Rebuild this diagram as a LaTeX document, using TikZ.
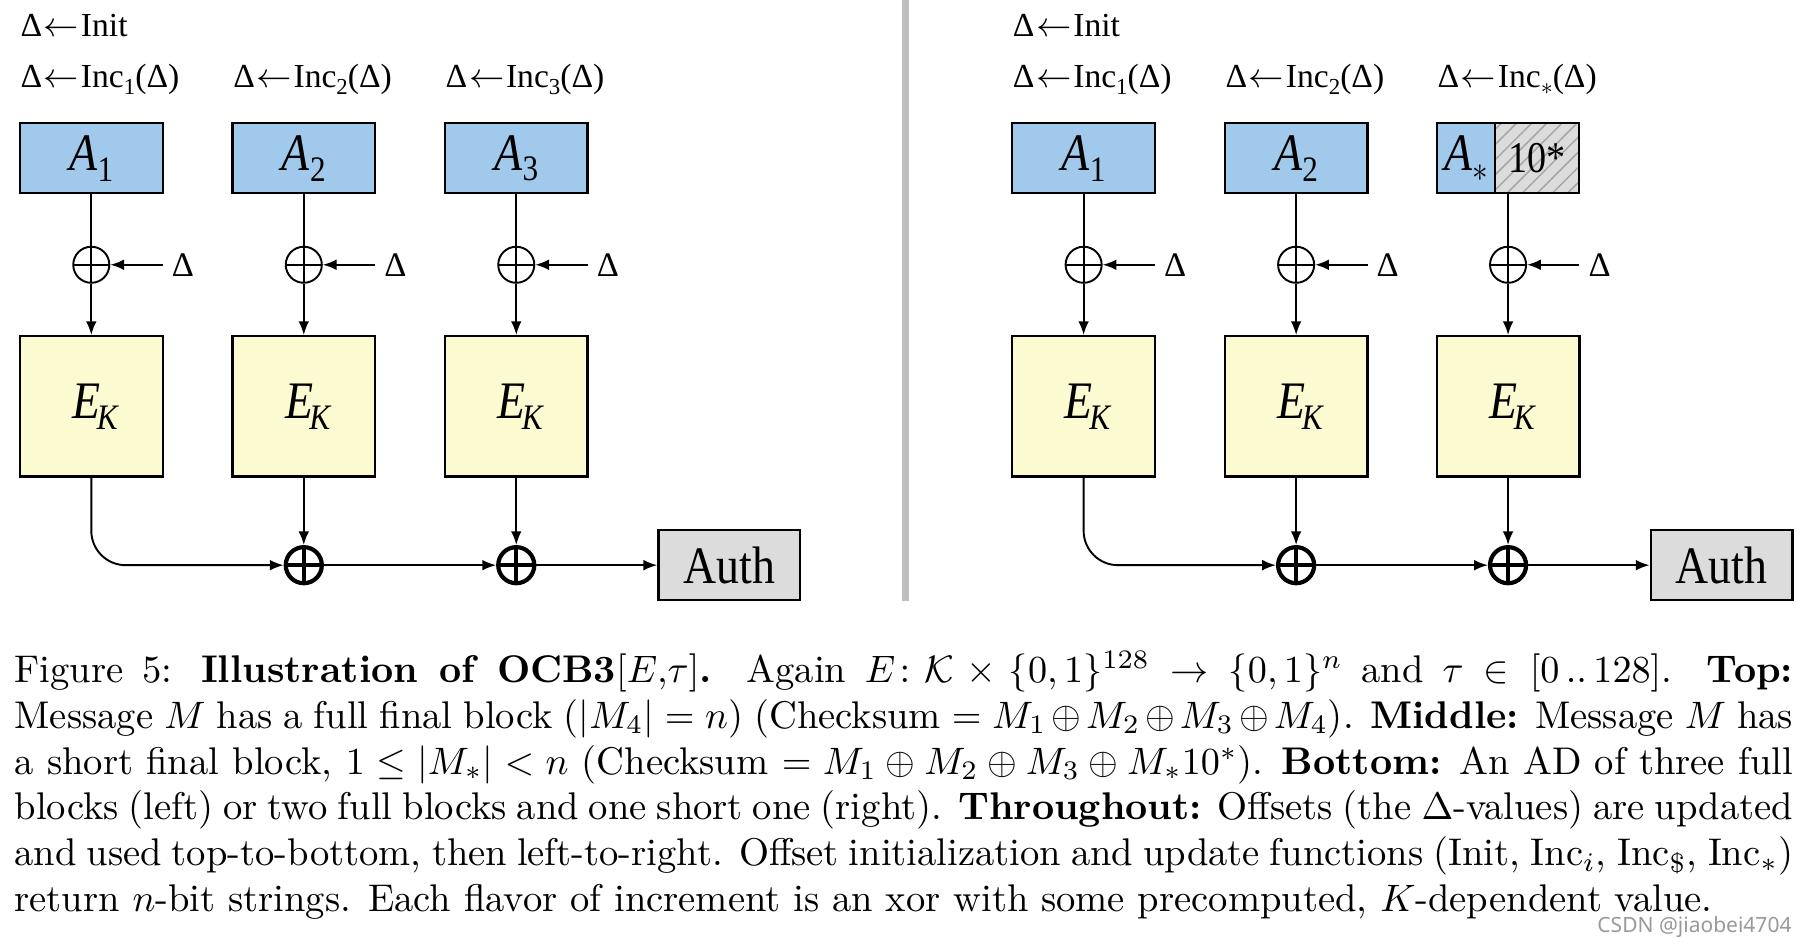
\documentclass[tikz,border=0pt]{standalone}
\usepackage{fontspec}
\usepackage{amsmath,amssymb,graphicx}
\usetikzlibrary{arrows.meta,patterns.meta,positioning}
\newfontfamily\diagfont{Liberation Serif}
\newfontfamily\markfont{Noto Sans}
\definecolor{adblue}{HTML}{A0C9EC}
\definecolor{ekyellow}{HTML}{FCFAD0}
\definecolor{authgray}{HTML}{DCDCDC}
\definecolor{sepgray}{HTML}{BFBFBF}
\newcommand{\dsub}[1]{\raisebox{-0.45ex}{\scalebox{0.68}{#1}}}
\newcommand{\tallt}[1]{\scalebox{1}[1.15]{#1}}
\newcommand{\getsarr}{\kern0.05em$\leftarrow$\kern0.05em}
\newcommand{\ek}{\tallt{\hspace{0.2em}\textit{E}\kern-0.08em\dsub{\textit{K}}}}
\begin{document}
\begin{tikzpicture}[
    >={Latex[length=3.6pt,width=2.8pt]},
    wire/.style={line width=0.5pt},
    lbl/.style={anchor=west, inner sep=0pt, font=\diagfont\fontsize{8.8}{10}\selectfont},
    dlt/.style={anchor=west, inner xsep=2.2pt, inner ysep=0pt, font=\diagfont\fontsize{9}{10}\selectfont},
    blk/.style={draw, line width=0.6pt, inner sep=0pt, font=\diagfont\fontsize{12}{14}\selectfont},
    adbox/.style={blk, fill=adblue, minimum width=1.313cm, minimum height=0.646cm},
    ekbox/.style={blk, fill=ekyellow, minimum width=1.313cm, minimum height=1.292cm},
    authbox/.style={blk, fill=authgray, minimum width=1.303cm, minimum height=0.646cm},
    xorsm/.style={circle, draw, line width=0.5pt, minimum size=0.332cm, inner sep=0pt,
        path picture={\draw (path picture bounding box.west) -- (path picture bounding box.east)
            (path picture bounding box.north) -- (path picture bounding box.south);}},
    xorbig/.style={xorsm, line width=1.1pt}
]
    \useasboundingbox (0,0) rectangle (16.607,8.685);

    % left: three full blocks
    \node[lbl] (linit) at (0.183,8.452) {Δ\getsarr Init};
    \node[lbl] (linc1) at (0.183,7.954) {Δ\getsarr Inc\dsub{1}(Δ)};
    \node[lbl] (linc2) at (2.139,7.954) {Δ\getsarr Inc\dsub{2}(Δ)};
    \node[lbl] (linc3) at (4.094,7.954) {Δ\getsarr Inc\dsub{3}(Δ)};
    \node[adbox] (a1) at (0.84,7.229) {\tallt{\textit{A}\dsub{1}}};
    \node[adbox] (a2) at (2.795,7.229) {\tallt{\textit{A}\dsub{2}}};
    \node[adbox] (a3) at (4.75,7.229) {\tallt{\textit{A}\dsub{3}}};
    \node[xorsm] (x1) at (0.84,6.249) {};
    \node[xorsm] (x2) at (2.795,6.249) {};
    \node[xorsm] (x3) at (4.75,6.249) {};
    \node[dlt] (d1) at (1.497,6.249) {Δ};
    \node[dlt] (d2) at (3.452,6.249) {Δ};
    \node[dlt] (d3) at (5.407,6.249) {Δ};
    \node[ekbox] (e1) at (0.84,4.946) {\ek};
    \node[ekbox] (e2) at (2.795,4.946) {\ek};
    \node[ekbox] (e3) at (4.75,4.946) {\ek};
    \node[xorbig] (s2) at (2.795,3.485) {};
    \node[xorbig] (s3) at (4.75,3.485) {};
    \node[authbox] (auth) at (6.709,3.485) {\tallt{Auth}};

    \draw[wire] (a1) -- (x1);
    \draw[wire] (a2) -- (x2);
    \draw[wire] (a3) -- (x3);
    \draw[wire,->] (x1) -- (e1);
    \draw[wire,->] (x2) -- (e2);
    \draw[wire,->] (x3) -- (e3);
    \draw[wire,->] (d1.west) -- (x1.east);
    \draw[wire,->] (d2.west) -- (x2.east);
    \draw[wire,->] (d3.west) -- (x3.east);
    \draw[wire,->,rounded corners=9pt] (e1.south) |- (s2.west);
    \draw[wire,->] (e2) -- (s2);
    \draw[wire,->] (e3) -- (s3);
    \draw[wire,->] (s2) -- (s3);
    \draw[wire,->] (s3) -- (auth);

    % separator
    \fill[sepgray] (8.303,3.156) rectangle (8.367,8.685);

    % right: two full blocks and one short one
    \node[lbl] (rinit) at (9.313,8.452) {Δ\getsarr Init};
    \node[lbl] (rinc1) at (9.313,7.954) {Δ\getsarr Inc\dsub{1}(Δ)};
    \node[lbl] (rinc2) at (11.269,7.954) {Δ\getsarr Inc\dsub{2}(Δ)};
    \node[lbl] (rinc3) at (13.219,7.954) {Δ\getsarr Inc\dsub{$\ast$}(Δ)};
    \node[adbox] (ra1) at (9.97,7.229) {\tallt{\textit{A}\dsub{1}}};
    \node[adbox] (ra2) at (11.925,7.229) {\tallt{\textit{A}\dsub{2}}};
    \node[adbox, minimum width=0.54cm] (rastar) at (13.488,7.229) {\tallt{\textit{A}\dsub{$\ast$}}};
    \node[blk, right=-0.6pt of rastar, minimum width=0.773cm, minimum height=0.646cm,
        preaction={fill=authgray}, pattern={Lines[angle=45,distance=2.8pt,line width=0.4pt]}, pattern color=gray!70,
        font=\diagfont\fontsize{10}{12}\selectfont] (rpad) {\tallt{10*}};
    \node[xorsm] (rx1) at (9.97,6.249) {};
    \node[xorsm] (rx2) at (11.925,6.249) {};
    \node[xorsm] (rx3) at (13.875,6.249) {};
    \node[dlt] (rd1) at (10.627,6.249) {Δ};
    \node[dlt] (rd2) at (12.582,6.249) {Δ};
    \node[dlt] (rd3) at (14.532,6.249) {Δ};
    \node[ekbox] (re1) at (9.97,4.946) {\ek};
    \node[ekbox] (re2) at (11.925,4.946) {\ek};
    \node[ekbox] (re3) at (13.875,4.946) {\ek};
    \node[xorbig] (rs2) at (11.925,3.485) {};
    \node[xorbig] (rs3) at (13.875,3.485) {};
    \node[authbox] (rauth) at (15.839,3.485) {\tallt{Auth}};

    \draw[wire] (ra1) -- (rx1);
    \draw[wire] (ra2) -- (rx2);
    \draw[wire] (rx3 |- rpad.south) -- (rx3);
    \draw[wire,->] (rx1) -- (re1);
    \draw[wire,->] (rx2) -- (re2);
    \draw[wire,->] (rx3) -- (re3);
    \draw[wire,->] (rd1.west) -- (rx1.east);
    \draw[wire,->] (rd2.west) -- (rx2.east);
    \draw[wire,->] (rd3.west) -- (rx3.east);
    \draw[wire,->,rounded corners=9pt] (re1.south) |- (rs2.west);
    \draw[wire,->] (re2) -- (rs2);
    \draw[wire,->] (re3) -- (rs3);
    \draw[wire,->] (rs2) -- (rs3);
    \draw[wire,->] (rs3) -- (rauth);

    % caption
    \node[anchor=north west, inner sep=0pt, text width=465.6pt, align=justify,
        font=\fontsize{10.1}{12}\selectfont] (caption) at (0.127,2.70) {\hyphenpenalty=10000\exhyphenpenalty=10000
        Figure 5: \textbf{Illustration of OCB3}$[E{,}\tau]$\textbf{.} Again $E\colon \mathcal{K}\times\{0,1\}^{128}\to\{0,1\}^n$ and $\tau\in[0\mathinner{..}128]$. \textbf{Top:}\linebreak Message $M$ has a full final block ($|M_4|=n$) (Checksum $=M_1\oplus M_2\oplus M_3\oplus M_4$). \textbf{Middle:} Message $M$ has\linebreak a short final block, $1\le|M_*|<n$ (Checksum $=M_1\oplus M_2\oplus M_3\oplus M_*10^*$). \textbf{Bottom:} An AD of three full\linebreak blocks (left) or two full blocks and one short one (right). \textbf{Throughout:} Offsets (the $\Delta$-values) are updated\linebreak and used top-to-bottom, then left-to-right. Offset initialization and update functions (Init, $\mathrm{Inc}_i$, $\mathrm{Inc}_{\$}$, $\mathrm{Inc}_*$)\linebreak return $n$-bit strings. Each flavor of increment is an xor with some precomputed, $K$-dependent value.};
    \node[anchor=south east, inner sep=0pt, text=gray!80, font=\markfont\fontsize{5.5}{6}\selectfont] (mark) at (16.49,0.05) {CSDN @jiaobei4704};
\end{tikzpicture}
\end{document}
